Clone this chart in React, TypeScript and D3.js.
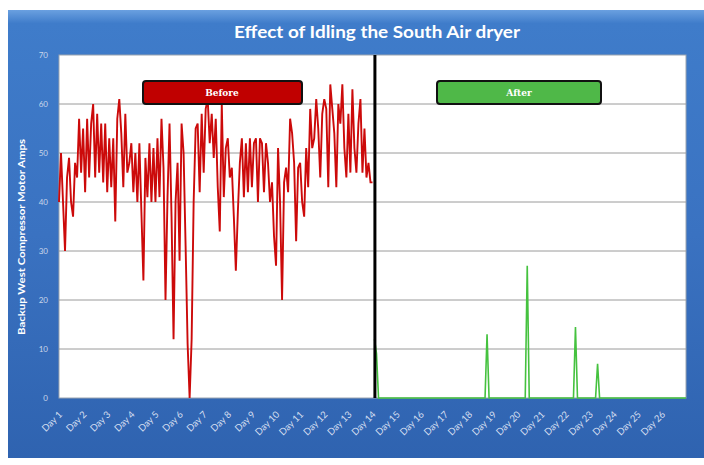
import React, { useMemo } from "react";
import * as d3 from "d3";

const WIDTH = 704;
const HEIGHT = 465;

const chartTitle = "Effect of Idling the South Air dryer";
const yAxisTitle = "Backup West Compressor Motor Amps";
const dayLabels = [
  "Day 1", "Day 2", "Day 3", "Day 4", "Day 5", "Day 6", "Day 7", "Day 8", "Day 9",
  "Day 10", "Day 11", "Day 12", "Day 13", "Day 14", "Day 15", "Day 16", "Day 17",
  "Day 18", "Day 19", "Day 20", "Day 21", "Day 22", "Day 23", "Day 24", "Day 25", "Day 26",
];
const yTicks = [0, 10, 20, 30, 40, 50, 60, 70];

// readings every 2 hours
const POINTS_PER_DAY = 12;
const switchDay = 14.1;

// before idling (Day 1 .. Day 14)
const beforeAmps = [
  40, 50, 40, 30, 45, 49, 40, 37, 48, 45, 57, 46,
  55, 42, 57, 45, 56, 60, 45, 58, 46, 56, 44, 56,
  42, 53, 43, 53, 36, 57, 61, 54, 43, 58, 46, 48,
  52, 42, 50, 40, 52, 38, 24, 49, 41, 52, 40, 51,
  40, 53, 41, 57, 47, 20, 41, 56, 37, 12, 40, 48,
  28, 56, 50, 31, 11, 0, 12, 40, 55, 56, 42, 58,
  46, 59, 61, 52, 58, 49, 57, 43, 34, 60, 41, 51,
  53, 45, 47, 37, 26, 38, 48, 53, 41, 52, 42, 53,
  43, 52, 53, 40, 53, 52, 42, 52, 48, 40, 44, 33,
  27, 51, 40, 20, 44, 47, 42, 57, 54, 48, 32, 47,
  48, 40, 37, 51, 43, 59, 51, 53, 61, 55, 45, 58,
  61, 59, 43, 64, 59, 54, 43, 60, 56, 64, 51, 45,
  58, 46, 63, 51, 46, 56, 61, 46, 55, 45, 48, 44,
  44,
];

// after idling (from Day 14 on)
const afterAmps = [
  12, 9, 0, 0, 0, 0, 0, 0, 0, 0, 0, 0,
  0, 0, 0, 0, 0, 0, 0, 0, 0, 0, 0, 0,
  0, 0, 0, 0, 0, 0, 0, 0, 0, 0, 0, 0,
  0, 0, 0, 0, 0, 0, 0, 0, 0, 0, 0, 0,
  0, 0, 0, 0, 0, 0, 0, 0, 13, 0, 0, 0,
  0, 0, 0, 0, 0, 0, 0, 0, 0, 0, 0, 0,
  0, 0, 0, 0, 27, 0, 0, 0, 0, 0, 0, 0,
  0, 0, 0, 0, 0, 0, 0, 0, 0, 0, 0, 0,
  0, 0, 0, 0, 14.5, 0, 0, 0, 0, 0, 0, 0,
  0, 0, 0, 7, 0, 0, 0, 0, 0, 0, 0, 0,
  0, 0, 0, 0, 0, 0, 0, 0, 0, 0, 0, 0,
  0, 0, 0, 0, 0, 0, 0, 0, 0, 0, 0, 0,
  0, 0, 0, 0, 0, 0, 0, 0, 0, 0, 0, 0,
];

const plot = { left: 59, right: 686, top: 55, bottom: 398 };

const App = () => {
  const xScale = useMemo(
    () => d3.scaleLinear().domain([1, 27]).range([plot.left, plot.right]),
    []
  );
  const yScale = useMemo(
    () => d3.scaleLinear().domain([0, 70]).range([plot.bottom, plot.top]),
    []
  );

  const line = d3
    .line<[number, number]>()
    .x((d) => xScale(d[0]))
    .y((d) => yScale(d[1]));

  const beforePath = line(
    beforeAmps.map((v, i) => [1 + i / POINTS_PER_DAY, v] as [number, number])
  );
  const afterPath = line(
    afterAmps.map(
      (v, i) => [1 + (beforeAmps.length + i) / POINTS_PER_DAY, v] as [number, number]
    )
  );

  const font = "Lato, 'Open Sans', sans-serif";

  return (
    <svg
      width={WIDTH}
      height={HEIGHT}
      style={{ position: "absolute", left: 0, top: 0, display: "block" }}
    >
      <defs>
        <linearGradient id="bg" x1="0" y1="0" x2="0" y2="1">
          <stop offset="0" stopColor="#6aa0e0" />
          <stop offset="0.03" stopColor="#3f7cca" />
          <stop offset="0.5" stopColor="#3a72c1" />
          <stop offset="1" stopColor="#2f63b0" />
        </linearGradient>
      </defs>
      <rect x={0} y={0} width={WIDTH} height={HEIGHT} fill="#ffffff" />
      <rect x={8} y={10} width={WIDTH - 8} height={448} fill="url(#bg)" />

      <text
        x={377}
        y={38}
        textAnchor="middle"
        fill="#ffffff"
        fontFamily={font}
        fontWeight="bold"
        fontSize={17}
        textLength={286}
        lengthAdjust="spacingAndGlyphs"
      >
        {chartTitle}
      </text>

      <rect
        x={plot.left}
        y={plot.top}
        width={plot.right - plot.left}
        height={plot.bottom - plot.top}
        fill="#ffffff"
        stroke="#9aa4b0"
        strokeWidth={1}
      />

      {yTicks.map((t) => (
        <g key={t}>
          {t > 0 && t < 70 && (
            <line
              x1={plot.left}
              x2={plot.right}
              y1={yScale(t)}
              y2={yScale(t)}
              stroke="#9a9a9a"
              strokeWidth={1}
            />
          )}
          <text
            x={48}
            y={yScale(t)}
            dy="0.35em"
            textAnchor="end"
            fill="#c9d6ea"
            fontFamily={font}
            fontSize={8}
          >
            {t}
          </text>
        </g>
      ))}

      <text
        transform={`translate(25, 237) rotate(-90)`}
        textAnchor="middle"
        fill="#ffffff"
        fontFamily={font}
        fontWeight="bold"
        fontSize={9}
        textLength={196}
        lengthAdjust="spacingAndGlyphs"
      >
        {yAxisTitle}
      </text>

      {dayLabels.map((label, i) => (
        <text
          key={label}
          transform={`translate(${xScale(i + 1) + 4}, 415) rotate(-45)`}
          textAnchor="end"
          fill="#d3def0"
          fontFamily={font}
          fontSize={9.5}
        >
          {label}
        </text>
      ))}

      <path d={afterPath ?? ""} fill="none" stroke="#45c23f" strokeWidth={1.6} />
      <path d={beforePath ?? ""} fill="none" stroke="#cc0a0a" strokeWidth={1.9} />

      <line
        x1={xScale(switchDay)}
        x2={xScale(switchDay)}
        y1={plot.top}
        y2={plot.bottom}
        stroke="#000000"
        strokeWidth={3}
      />

      <rect x={143} y={81} width={159} height={23} rx={3} fill="#c00000" stroke="#111" strokeWidth={2} />
      <text x={222} y={93} dy="0.35em" textAnchor="middle" fill="#ffffff" fontFamily="'DejaVu Serif', serif" fontWeight="bold" fontSize={9}>
        Before
      </text>
      <rect x={437} y={81} width={164} height={23} rx={3} fill="#4fb848" stroke="#111" strokeWidth={2} />
      <text x={519} y={93} dy="0.35em" textAnchor="middle" fill="#ffffff" fontFamily="'DejaVu Serif', serif" fontWeight="bold" fontSize={9}>
        After
      </text>
    </svg>
  );
};

export default App;
